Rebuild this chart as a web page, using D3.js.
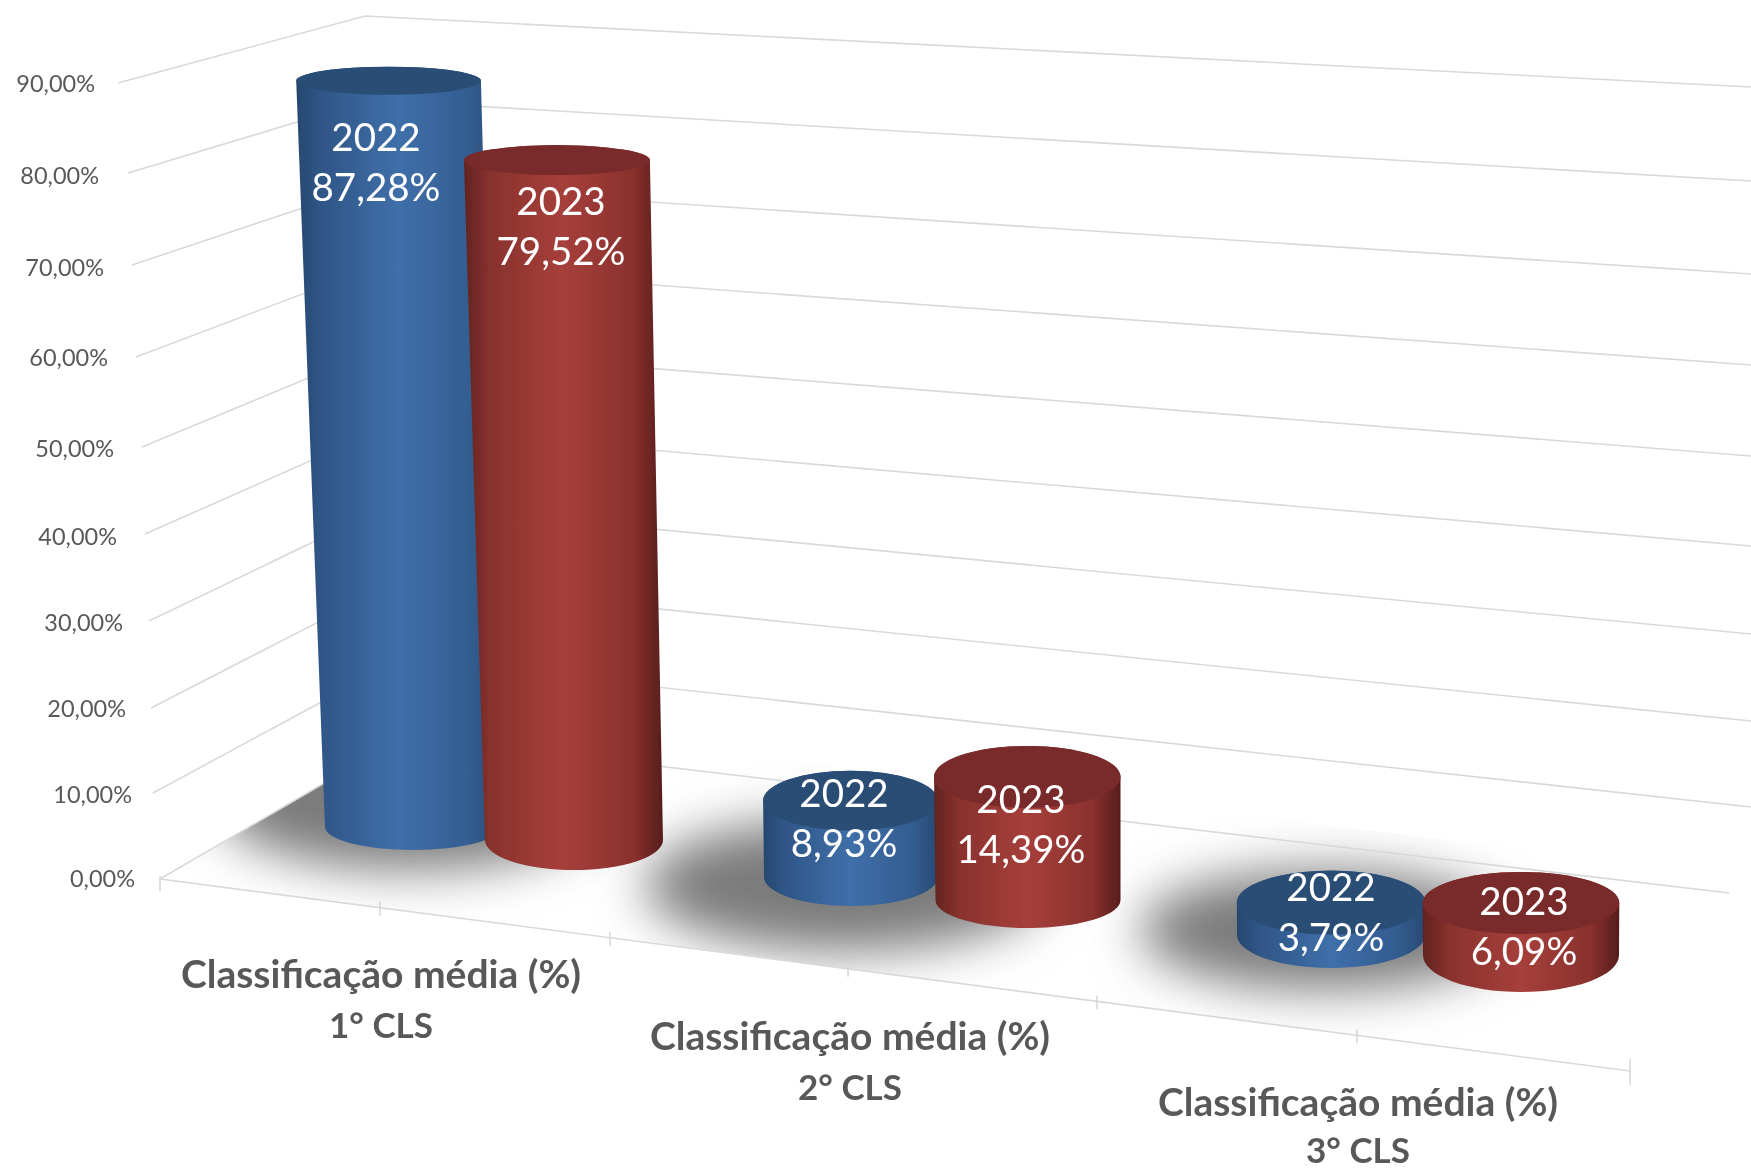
<!DOCTYPE html>
<html><head><meta charset="utf-8">
<script src="https://cdnjs.cloudflare.com/ajax/libs/d3/7.8.5/d3.min.js"></script>
<style>html,body{margin:0;padding:0;background:#fff;overflow:hidden}svg{display:block}text{font-family:Lato,"Open Sans",sans-serif}</style>
</head><body><svg id="c" width="1751" height="1171"></svg>
<script>
// ---- data ----
const categories = ["1° CLS", "2° CLS", "3° CLS"];
const categoryTitle = "Classificação média (%)";
const seriesNames = ["2022", "2023"];
const values2022 = [87.28, 8.93, 3.79];
const values2023 = [79.52, 14.39, 6.09];
const ticks = [0, 10, 20, 30, 40, 50, 60, 70, 80, 90];

// ---- perspective layout (scales) ----
const wallFrontX = [160, 153, 151, 149, 145, 142, 136, 132, 128, 118];
const wallFrontY = [879, 793, 708, 621, 534, 447, 357, 265, 173, 83];
const wallBackX  = [405, 401, 396, 392, 387, 383, 379, 374, 370, 365];
const wallBackY  = [736, 659, 582, 504, 427, 347, 265, 184, 100, 16];
const wallRightX = [1729, 1751, 1751, 1751, 1751, 1751, 1751, 1751, 1751, 1751];
const wallRightY = [893, 807, 721, 634, 546, 456, 365, 274, 181, 87];
const labelRightX = [135, 132, 126, 123, 117, 114, 108, 104, 99, 95];
const labelY = [878, 794, 708, 622, 536, 448, 357, 267, 175, 83];
const mk = r => d3.scaleLinear().domain(ticks).range(r);
const fx = mk(wallFrontX), fy = mk(wallFrontY), bx = mk(wallBackX), by = mk(wallBackY),
      rx = mk(wallRightX), ry = mk(wallRightY), lx = mk(labelRightX), ly = mk(labelY);
const floorStep = [0, 1, 2, 3, 4, 5, 6];
const floorX = d3.scaleLinear().domain(floorStep).range([160, 380, 610, 848, 1097, 1357, 1630]);
const floorY = d3.scaleLinear().domain([160, 1630]).range([879, 1071]);
const unit = d3.scaleLinear().domain([0, 100]).range([0, 855]);

// cylinders: [category][series] geometry
const baseCx = [[413, 574], [851, 1028], [1331, 1521]];
const baseCy = [[827, 840], [877, 900], [935, 955]];
const baseRx = [[88, 89], [87, 92.5], [94, 98]];
const baseRy = [[23, 30], [29, 28], [33, 37]];
const topRy  = [[14, 15], [30, 31], [32, 31]];
const tilt   = [[0.28, 0.215], [0.05, 0.05], [0, 0]];
const growR = 0.05;
const labelCx = [[376, 561], [844, 1021], [1331, 1524]];
const labelCy = [[151, 215], [807, 813], [901, 915]];
const catLabelX = [381, 850, 1358];
const catLabelY = [988, 1050, 1116];
const catLineGap = [50, 50, 47];

// shadows
const shadowCx = [410, 845, 1325], shadowCy = [800, 885, 930], shadowRx = [195, 200, 185], shadowRy = [70, 66, 60];

const fmtLocale = d3.formatLocale({decimal: ",", thousands: ".", grouping: [3], currency: ["", ""]});
const pct = v => fmtLocale.format(".2f")(v) + "%";

const svg = d3.select("#c");
const defs = svg.append("defs");
function grad(id, stops) {
  const g = defs.append("linearGradient").attr("id", id);
  stops.forEach(s => g.append("stop").attr("offset", s[0]).attr("stop-color", s[1]));
}
grad("g2022", [[0, "#27486f"], [.12, "#2f5687"], [.5, "#3f6fa9"], [.85, "#335d90"], [1, "#284a73"]]);
grad("g2023", [[0, "#622321"], [.14, "#8a322e"], [.5, "#a63f3b"], [.85, "#8a312e"], [1, "#561d1c"]]);
const fills = ["url(#g2022)", "url(#g2023)"], tops = ["#2c4d76", "#792a2a"];

const soft = defs.append("filter").attr("id", "soft").attr("x", "-5%").attr("y", "-5%").attr("width", "110%").attr("height", "110%");
soft.append("feGaussianBlur").attr("stdDeviation", 0.45);
const blur = defs.append("filter").attr("id", "blur").attr("x", "-40%").attr("y", "-60%").attr("width", "180%").attr("height", "220%");
blur.append("feGaussianBlur").attr("stdDeviation", 25);
defs.append("clipPath").attr("id", "floor").append("path")
  .attr("d", d3.line()([[fx(0), fy(0)], [bx(0), by(0)], [bx(0) + 2, by(0) - 20], [rx(0), ry(0) - 20], [rx(0), ry(0)], [floorX(6), floorY(floorX(6))]]));

const root = svg.append("g").attr("filter", "url(#soft)");

// shadows on the floor
root.append("g").attr("clip-path", "url(#floor)").selectAll("ellipse").data(categories).join("ellipse")
  .attr("filter", "url(#blur)").attr("fill", "#7a7a7a")
  .attr("cx", (d, i) => shadowCx[i]).attr("cy", (d, i) => shadowCy[i])
  .attr("rx", (d, i) => shadowRx[i]).attr("ry", (d, i) => shadowRy[i]);

// gridlines
root.append("g").selectAll("path").data(ticks).join("path")
  .attr("fill", "none").attr("stroke", "#d9d9d9").attr("stroke-width", 1.6)
  .attr("d", t => d3.line()([[fx(t), fy(t)], [bx(t), by(t)], [rx(t), ry(t)]]));

// floor axis
root.append("path").attr("fill", "none").attr("stroke", "#d9d9d9").attr("stroke-width", 1.6)
  .attr("d", d3.line()([[floorX(0), floorY(floorX(0))], [floorX(6), floorY(floorX(6))]]));
root.append("g").selectAll("line").data(floorStep).join("line")
  .attr("stroke", "#d9d9d9").attr("stroke-width", 1.6)
  .attr("x1", d => floorX(d)).attr("x2", d => floorX(d))
  .attr("y1", d => floorY(floorX(d)) - (d === 0 ? 3 : d === 6 ? 12 : 6))
  .attr("y2", d => floorY(floorX(d)) + (d === 0 ? 12 : d === 6 ? 14 : 8));

// tick labels
root.append("g").selectAll("text").data(ticks).join("text")
  .attr("text-anchor", "end").attr("dominant-baseline", "central")
  .attr("x", t => lx(t)).attr("y", t => ly(t)).attr("fill", "#595959").attr("font-size", 23.5)
  .text(pct);

// cylinders
const cyls = [];
categories.forEach((c, i) => [values2022, values2023].forEach((vals, s) => cyls.push({
  i, s, v: vals[i], year: seriesNames[s]})));

const cylG = root.append("g").selectAll("g").data(cyls).join("g");
const topCx = d => baseCx[d.i][d.s] - tilt[d.i][d.s] * d.v;
const topR = d => baseRx[d.i][d.s] + growR * d.v;
cylG.append("path").attr("fill", d => fills[d.s]).attr("d", d => {
  const cx0 = baseCx[d.i][d.s], cy0 = baseCy[d.i][d.s], r0 = baseRx[d.i][d.s], q0 = baseRy[d.i][d.s];
  const cx1 = topCx(d), r1 = topR(d), cy1 = cy0 - unit(d.v), q1 = topRy[d.i][d.s];
  return `M${cx1 - r1},${cy1} L${cx0 - r0},${cy0} A${r0},${q0} 0 0 0 ${cx0 + r0},${cy0} L${cx1 + r1},${cy1} A${r1},${q1} 0 0 0 ${cx1 - r1},${cy1} Z`;
});
cylG.append("ellipse").attr("fill", d => tops[d.s])
  .attr("cx", topCx)
  .attr("cy", d => baseCy[d.i][d.s] - unit(d.v))
  .attr("rx", topR)
  .attr("ry", d => topRy[d.i][d.s]);

// data labels
const lab = root.append("g").selectAll("text").data(cyls).join("text")
  .attr("text-anchor", "middle").attr("fill", "#fff").attr("font-size", 38.5)
  .attr("x", d => labelCx[d.i][d.s]).attr("y", d => labelCy[d.i][d.s]);
lab.append("tspan").attr("x", d => labelCx[d.i][d.s]).text(d => d.year);
lab.append("tspan").attr("x", d => labelCx[d.i][d.s]).attr("dy", 50).text(d => pct(d.v));

// category labels
const cat = root.append("g").selectAll("text").data(categories).join("text")
  .attr("text-anchor", "middle").attr("fill", "#595959").attr("font-size", 39).attr("font-weight", 700)
  .attr("x", (d, i) => catLabelX[i]).attr("y", (d, i) => catLabelY[i]);
cat.append("tspan").attr("x", (d, i) => catLabelX[i]).text(categoryTitle);
cat.append("tspan").attr("x", (d, i) => catLabelX[i]).attr("dy", (d, i) => catLineGap[i]).attr("font-size", 35).text(d => d);
</script></body></html>
